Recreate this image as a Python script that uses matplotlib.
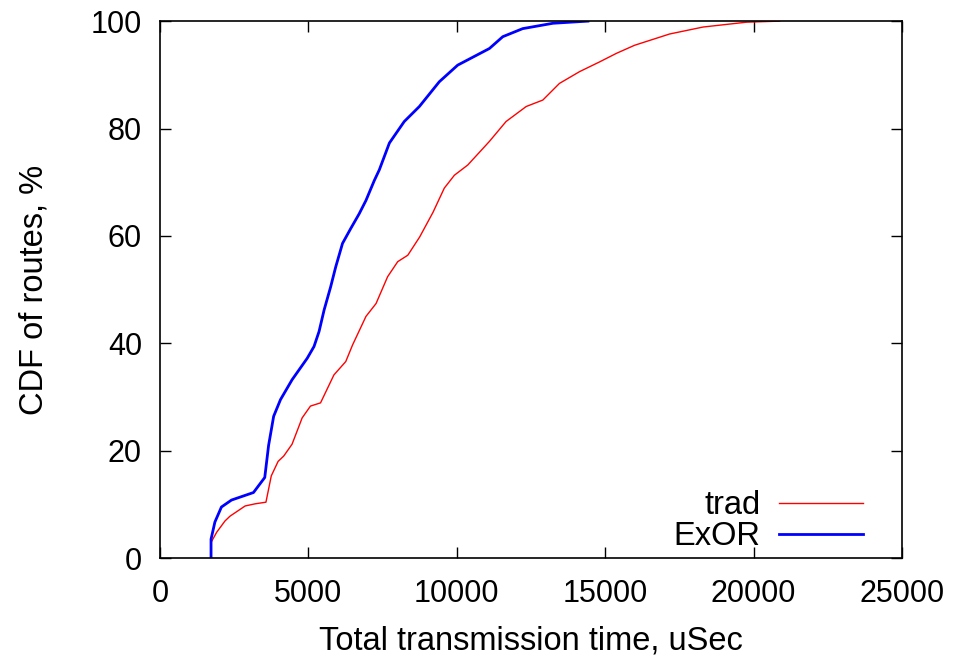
import matplotlib
matplotlib.use("Agg")
import matplotlib.pyplot as plt

exor_x = [1720, 1720, 1850, 2070, 2410, 3150, 3530, 3660, 3830, 4060, 4450, 4960, 5190, 5360, 5530,
          5750, 5920, 6150, 6430, 6710, 6940, 7220, 7390, 7730, 8230, 8740, 9410, 10030, 11100,
          11550, 12220, 13240, 14420]
exor_y = [0, 3.5, 6.7, 9.5, 10.8, 12.2, 15, 21, 26.4, 29.5, 33.2, 37.2, 39.4, 42.2, 46.2,
          50.5, 54.2, 58.6, 61.4, 64.1, 66.6, 70.3, 72.3, 77.3, 81.3, 84.1, 88.7, 91.8, 94.9,
          97.1, 98.6, 99.6, 100]

trad_x = [1730, 1730, 1910, 2190, 2360, 2870, 3210, 3570, 3750, 3980, 4170, 4450, 4790, 5070,
          5410, 5860, 6260, 6490, 6940, 7280, 7670, 8010, 8350, 8750, 9200, 9580, 9920, 10370,
          11100, 11660, 12340, 12900, 13460, 14140, 14810, 15380, 15990, 17170, 18300, 19760, 20880]
trad_y = [0, 3, 4.8, 6.9, 7.8, 9.7, 10.1, 10.4, 15.3, 18, 19, 21.2, 26.1, 28.3,
          28.9, 34.1, 36.6, 39.7, 45, 47.4, 52.4, 55.2, 56.4, 59.8, 64.4, 68.9, 71.3, 73.2,
          77.6, 81.3, 84.1, 85.3, 88.4, 90.6, 92.4, 94, 95.5, 97.6, 98.9, 99.8, 100]

xticks = [0, 5000, 10000, 15000, 20000, 25000]
yticks = [0, 20, 40, 60, 80, 100]

plt.rcParams['font.family'] = ['Liberation Sans', 'DejaVu Sans']

fig = plt.figure(figsize=(9.58, 6.6), dpi=100)
ax = fig.add_axes([0.167, 0.1545, 0.7745, 0.8135])

ax.plot(trad_x, trad_y, color='#ff0000', lw=1.0, label='trad')
ax.plot(exor_x, exor_y, color='#0000ff', lw=2.0, label='ExOR')

ax.set_xlim(0, 25000)
ax.set_ylim(0, 100)
ax.set_xticks(xticks)
ax.set_yticks(yticks)
ax.tick_params(direction='in', length=8, width=1, top=True, right=True, labelsize=22)
ax.tick_params(axis='x', pad=15)
ax.tick_params(axis='y', pad=13)
for s in ax.spines.values():
    s.set_linewidth(1.2)

ax.set_xlabel('Total transmission time, uSec', fontsize=23.5, labelpad=12)
ax.set_ylabel('CDF of routes, %', fontsize=23.5, labelpad=30)

leg = ax.legend(loc='lower right', bbox_to_anchor=(0.956, 0.0), frameon=False,
                markerfirst=False, handlelength=2.6, handletextpad=0.55,
                borderpad=0.0, borderaxespad=0.18, labelspacing=0.0, fontsize=23.5)

fig.savefig('out.png', dpi=100)
